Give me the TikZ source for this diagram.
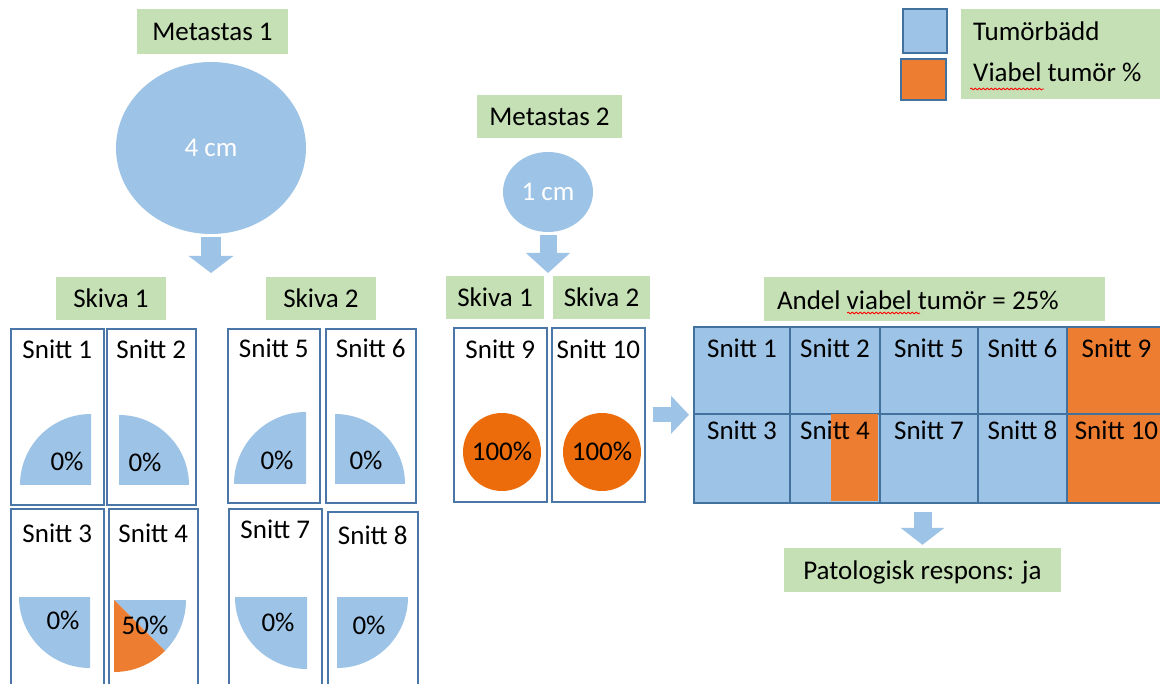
\documentclass[tikz,border=0pt]{standalone}
\usepackage{fontspec}
\setmainfont{Carlito}
\usetikzlibrary{shapes.geometric,arrows.meta,decorations.pathmorphing}
\definecolor{tblue}{HTML}{9DC3E6}
\definecolor{torange}{HTML}{ED7D31}
\definecolor{corange}{HTML}{EC6C0B}
\definecolor{lgreen}{HTML}{C5E0B4}
\definecolor{edgeblue}{HTML}{4A77A8}
\definecolor{gridblue}{HTML}{41719C}
\tikzset{
  every node/.style={font=\fontsize{27}{32}\selectfont},
  txt/.style={inner sep=0pt, text height=18pt, text depth=0pt},
  lbl/.style={txt, fill=lgreen},
  snittbox/.style={draw=edgeblue, line width=1.6pt, inner sep=0pt, anchor=north west},
  cell/.style={draw=gridblue, line width=2pt, inner sep=0pt, anchor=north west},
  legsq/.style={draw=gridblue, line width=2pt, inner sep=0pt},
  spell/.style={red, line width=0.8pt, decorate, decoration={snake, amplitude=0.9pt, segment length=4pt}}
}
\begin{document}
\begin{tikzpicture}[x=1pt, y=1pt]
  \useasboundingbox (0,0) rectangle (1160,-684);
  \clip (0,0) rectangle (1160,-684);
  \fill[white] (0,0) rectangle (1160,-684);

  % metastas 1
  \node[lbl, minimum width=151pt, minimum height=45pt] (met1) at (212.5,-31.5) {Metastas 1};
  \node[ellipse, fill=tblue, txt, text=white, minimum width=190pt, minimum height=172pt] (m1circ) at (211,-148) {4 cm};
  \node[lbl, minimum width=110pt, minimum height=43pt] (sk1a) at (111,-298.5) {Skiva 1};
  \node[lbl, minimum width=110pt, minimum height=43pt] (sk2a) at (321,-298.5) {Skiva 2};

  % metastas 2
  \node[lbl, minimum width=145pt, minimum height=43pt] (met2) at (549.5,-116.5) {Metastas 2};
  \node[ellipse, fill=tblue, txt, text=white, minimum width=90pt, minimum height=80pt] (m2circ) at (548,-192) {1 cm};
  \node[lbl, minimum width=98pt, minimum height=43pt] (sk1b) at (495,-297.5) {Skiva 1};
  \node[lbl, minimum width=97pt, minimum height=43pt] (sk2b) at (601.5,-297.5) {Skiva 2};

  % snitt boxes
  \node[snittbox, minimum width=93pt, minimum height=176pt] (s1) at (10,-328) {};
  \node[snittbox, minimum width=89pt, minimum height=176pt] (s2) at (106,-328) {};
  \node[snittbox, minimum width=92pt, minimum height=174pt] (s5) at (227,-328) {};
  \node[snittbox, minimum width=90pt, minimum height=174pt] (s6) at (325,-328) {};
  \node[snittbox, minimum width=93pt, minimum height=200pt] (s3) at (10,-508) {};
  \node[snittbox, minimum width=89pt, minimum height=200pt] (s4) at (108,-508) {};
  \node[snittbox, minimum width=93pt, minimum height=200pt] (s7) at (228,-508) {};
  \node[snittbox, minimum width=90pt, minimum height=200pt] (s8) at (327,-511) {};
  \node[snittbox, minimum width=93pt, minimum height=174pt] (s9) at (453,-327) {};
  \node[snittbox, minimum width=93pt, minimum height=174pt] (s10) at (551,-327) {};
  \foreach \nm/\n/\dy in {s1/1/22, s2/2/22, s5/5/21, s6/6/21, s3/3/25, s4/4/25, s7/7/22, s8/8/24, s9/9/23, s10/10/23}
    \node[txt] (\nm t) at ([yshift=-\dy pt]\nm.north) {Snitt \n};

  % quarter slices
  \fill[tblue] (91,-485) -- (20,-485) arc[start angle=180, end angle=90, radius=71pt] -- cycle;
  \fill[tblue] (119,-485) -- (189,-485) arc[start angle=0, end angle=90, radius=70pt] -- cycle;
  \fill[tblue] (306,-484) -- (234,-484) arc[start angle=180, end angle=90, radius=72pt] -- cycle;
  \fill[tblue] (335,-484) -- (405,-484) arc[start angle=0, end angle=90, radius=70pt] -- cycle;
  \fill[tblue] (90,-597) -- (19,-597) arc[start angle=180, end angle=270, radius=71pt] -- cycle;
  \fill[tblue] (114,-600) -- ++(0:72pt) arc[start angle=0, end angle=-45, radius=72pt] -- cycle;
  \fill[torange] (114,-600) -- ++(-45:72pt) arc[start angle=-45, end angle=-90, radius=72pt] -- cycle;
  \fill[tblue] (307,-597) -- (235,-597) arc[start angle=180, end angle=270, radius=72pt] -- cycle;
  \fill[tblue] (337,-597) -- (408,-597) arc[start angle=0, end angle=-90, radius=71pt] -- cycle;
  \node[txt] (p1) at (67,-462) {0\%};
  \node[txt] (p2) at (145,-463) {0\%};
  \node[txt] (p5) at (277,-461) {0\%};
  \node[txt] (p6) at (366,-461) {0\%};
  \node[txt] (p3) at (63,-620) {0\%};
  \node[txt] (p4) at (145,-625) {50\%};
  \node[txt] (p7) at (278,-622) {0\%};
  \node[txt] (p8) at (369,-625) {0\%};
  \node[circle, fill=corange, txt, minimum size=78pt] (c9) at (502,-452) {100\%};
  \node[circle, fill=corange, txt, minimum size=78pt] (c10) at (602,-452) {100\%};

  % result grid
  \foreach \nm/\x/\w/\y/\h/\c in {g1/693/96/-326/87/tblue, g2/789/90/-326/87/tblue, g5/879/98/-326/87/tblue, g6/977/89/-326/87/tblue, g9/1066/99/-326/87/torange,
      g3/693/96/-413/89/tblue, g4/789/90/-413/89/tblue, g7/879/98/-413/89/tblue, g8/977/89/-413/89/tblue, g10/1066/99/-413/89/torange}
    \node[cell, fill=\c, minimum width=\w pt, minimum height=\h pt] (\nm) at (\x,\y) {};
  \fill[torange] (831,-414) rectangle (878,-501);
  \foreach \nm/\n in {g1/1, g2/2, g5/5, g6/6, g9/9}
    \node[txt] (\nm t) at ([yshift=-23pt]\nm.north) {Snitt \n};
  \foreach \nm/\n in {g3/3, g4/4, g7/7, g8/8, g10/10}
    \node[txt] (\nm t) at ([yshift=-18pt]\nm.north) {Snitt \n};
  \node[lbl, minimum width=341pt, minimum height=44pt] (andel) at (934.5,-299) {};
  \node[txt, anchor=west] (andelt) at ([xshift=13pt,yshift=-2pt]andel.west) {Andel viabel tumör = 25\%};
  \draw[spell] (847,-313) -- (920,-313);
  \node[lbl, minimum width=277pt, minimum height=44pt] (pat) at (922.5,-570) {Patologisk respons: ja};

  % block arrows
  \coordinate (m1tip) at (211,-273);
  \coordinate (m2tip) at (548,-273);
  \draw[tblue, line width=20pt, -{Triangle[width=44pt, length=17pt]}, shorten <=3pt] (m1circ.south) -- (m1tip);
  \draw[tblue, line width=17pt, -{Triangle[width=43pt, length=20pt]}, shorten <=3pt] (m2circ.south) -- (m2tip);
  \draw[tblue, line width=15pt, -{Triangle[width=37pt, length=18pt]}, shorten <=7pt, shorten >=4pt] (s10.east) -- (s10.east -| g3.west);
  \draw[tblue, line width=18pt, -{Triangle[width=43pt, length=17pt]}, shorten <=8pt, shorten >=3pt] (pat.north |- g7.south) -- (pat.north);

  % legend
  \node[legsq, fill=tblue, minimum width=44pt, minimum height=44pt] (legbl) at (925,-31) {};
  \node[legsq, fill=torange, minimum width=45pt, minimum height=41pt] (legor) at (923.5,-79.5) {};
  \node[fill=lgreen, inner sep=0pt, minimum width=199pt, minimum height=90pt] (legbox) at (1060.5,-54) {};
  \node[txt, anchor=west] (legbt) at (973,-32) {Tumörbädd};
  \node[txt, anchor=west] (legot) at (973,-73) {Viabel tumör \%};
  \draw[spell] (970,-89) -- (1044,-89);
\end{tikzpicture}
\end{document}
